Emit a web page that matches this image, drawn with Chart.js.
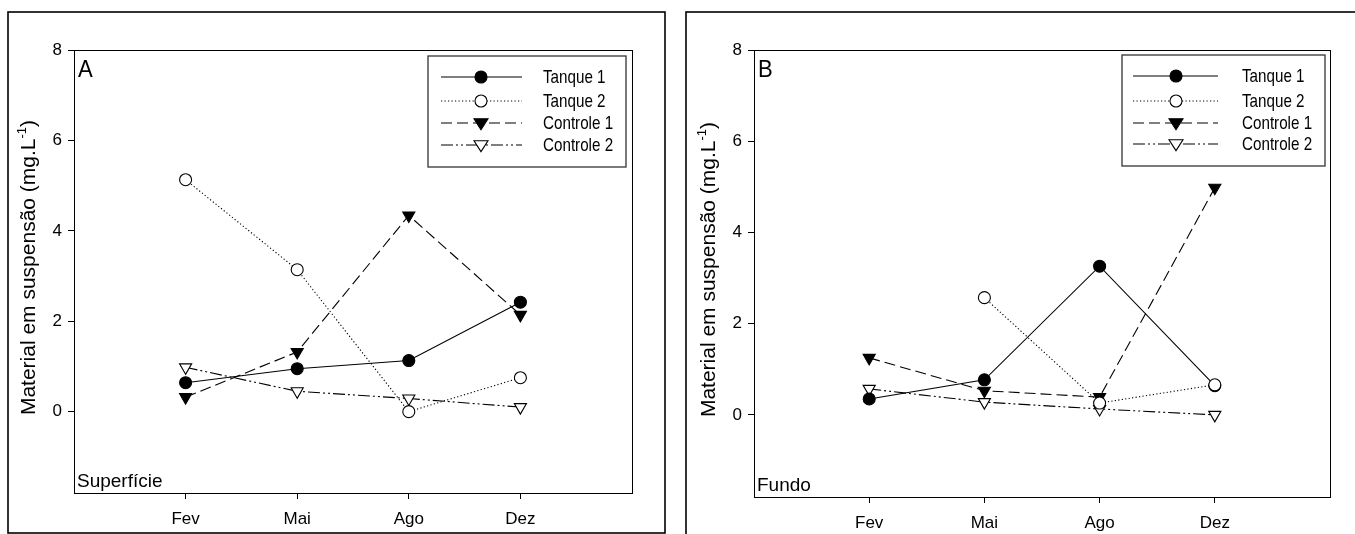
<!DOCTYPE html>
<html>
<head>
<meta charset="utf-8">
<script src="https://cdn.jsdelivr.net/npm/chart.js@4/dist/chart.umd.min.js"></script>
<style>
  html, body { margin:0; padding:0; background:#fff; }
  body { width:1355px; height:534px; position:relative; overflow:hidden; }
  canvas { position:absolute; top:0; }
</style>
</head>
<body>
<canvas id="cA" width="676" height="534" style="left:0px"></canvas>
<canvas id="cB" width="679" height="534" style="left:676px"></canvas>
<script>
// ---------- data ----------
const categories = ['Fev', 'Mai', 'Ago', 'Dez'];
const yTicks = [0, 2, 4, 6, 8];
const seriesNames = ['Tanque 1', 'Tanque 2', 'Controle 1', 'Controle 2'];

// Panel A - Superfície
const supTanque1   = [0.64, 0.95, 1.13, 2.42];
const supTanque2   = [5.13, 3.14, 0.00, 0.75];
const supControle1 = [0.32, 1.32, 4.34, 2.14];
const supControle2 = [0.98, 0.45, 0.29, 0.10];

// Panel B - Fundo
const fundoTanque1   = [0.35, 0.77, 3.26, 0.64];
const fundoTanque2   = [null, 2.57, 0.26, 0.66];
const fundoControle1 = [1.25, 0.53, 0.39, 4.98];
const fundoControle2 = [0.57, 0.28, 0.13, 0.00];

// ---------- styling ----------
const FONT = "'Liberation Sans', Arial, Helvetica, sans-serif";
const styles = [
  { borderDash: [], pointStyle: 'circle', pointRadius: 6, pointRotation: 0, fill: '#000', order: 1 },
  { borderDash: [1.2, 2.3], pointStyle: 'circle', pointRadius: 6, pointRotation: 0, fill: '#fff', order: 0 },
  { borderDash: [11, 5], pointStyle: 'triangle', pointRadius: 7, pointRotation: 180, fill: '#000', order: 2 },
  { borderDash: [12, 3, 2, 3, 2, 3], pointStyle: 'triangle', pointRadius: 7, pointRotation: 180, fill: '#fff', order: 3 }
];

function makeDatasets(arrs) {
  return arrs.map((arr, i) => ({
    label: seriesNames[i],
    data: arr.map((v, j) => ({ x: j + 1, y: v })),
    order: styles[i].order,
    borderColor: '#000',
    borderWidth: 1.1,
    borderDash: styles[i].borderDash,
    pointStyle: styles[i].pointStyle,
    pointRadius: styles[i].pointRadius,
    pointRotation: styles[i].pointRotation,
    pointBackgroundColor: styles[i].fill,
    pointBorderColor: '#000',
    pointBorderWidth: 1.1,
    fill: false,
    tension: 0,
    spanGaps: false
  }));
}

function drawMarker(ctx, style, r, rot, fill, x, y) {
  ctx.save();
  ctx.setLineDash([]);
  ctx.fillStyle = fill;
  ctx.strokeStyle = '#000';
  ctx.lineWidth = 1.1;
  ctx.beginPath();
  if (style === 'circle') {
    ctx.arc(x, y, r, 0, Math.PI * 2);
  } else {
    const s = r;
    ctx.moveTo(x - s, y - s * 0.6);
    ctx.lineTo(x + s, y - s * 0.6);
    ctx.lineTo(x, y + s * 0.95);
    ctx.closePath();
  }
  ctx.fill();
  ctx.stroke();
  ctx.restore();
}

function narrowText(ctx, text, x, y, size, squeeze) {
  ctx.save();
  ctx.font = size + 'px ' + FONT;
  ctx.translate(x, y);
  ctx.scale(squeeze, 1);
  ctx.fillText(text, 0, 0);
  ctx.restore();
}

function makeChart(id, W, area, frame, letter, place, legendBox, datasets) {
  const decor = {
    id: 'decor',
    beforeDraw(chart) {
      const ctx = chart.ctx;
      ctx.save();
      ctx.fillStyle = '#fff';
      ctx.fillRect(0, 0, chart.width, chart.height);
      ctx.strokeStyle = '#000';
      ctx.lineWidth = 1.6;
      ctx.strokeRect(frame[0], frame[1], frame[2] - frame[0], frame[3] - frame[1]);
      ctx.restore();
    },
    afterDraw(chart) {
      const ctx = chart.ctx;
      const a = chart.chartArea;
      ctx.save();
      ctx.strokeStyle = '#000';
      ctx.lineWidth = 1;
      ctx.strokeRect(a.left + 0.5, a.top + 0.5, a.right - a.left, a.bottom - a.top);
      // panel letter
      ctx.fillStyle = '#000';
      ctx.textBaseline = 'alphabetic';
      ctx.textAlign = 'left';
      narrowText(ctx, letter, a.left + 4, a.top + 27, 24, 0.92);
      // location label
      ctx.font = '19px ' + FONT;
      ctx.fillText(place, a.left + 3, a.bottom - 6);
      // axis title with superscript
      ctx.save();
      const cx = a.left - 39;
      const cy = (a.top + a.bottom) / 2 - 4;
      ctx.translate(cx, cy);
      ctx.rotate(-Math.PI / 2);
      const main = 'Material em suspensão (mg.L';
      const sup = '-1';
      const end = ')';
      ctx.font = '21px ' + FONT;
      const w1 = ctx.measureText(main).width;
      const w3 = ctx.measureText(end).width;
      ctx.font = '13px ' + FONT;
      const w2 = ctx.measureText(sup).width;
      let x0 = -(w1 + w2 + w3) / 2;
      ctx.font = '21px ' + FONT;
      ctx.fillText(main, x0, 0);
      ctx.font = '13px ' + FONT;
      ctx.fillText(sup, x0 + w1, -9);
      ctx.font = '21px ' + FONT;
      ctx.fillText(end, x0 + w1 + w2, 0);
      ctx.restore();
      // legend (in series order)
      const L = legendBox;
      ctx.strokeStyle = '#333';
      ctx.lineWidth = 1.3;
      ctx.strokeRect(L.x0, L.y0, L.x1 - L.x0, L.y1 - L.y0);
      chart.data.datasets.forEach((ds, i) => {
        const y = L.rows[i];
        ctx.save();
        ctx.strokeStyle = '#000';
        ctx.lineWidth = 1.1;
        ctx.setLineDash(ds.borderDash || []);
        ctx.beginPath();
        ctx.moveTo(L.l0, y);
        ctx.lineTo(L.l1, y);
        ctx.stroke();
        ctx.restore();
        drawMarker(ctx, ds.pointStyle, ds.pointRadius, ds.pointRotation, ds.pointBackgroundColor, L.m, y);
        ctx.fillStyle = '#000';
        ctx.textBaseline = 'middle';
        narrowText(ctx, ds.label, L.tx, y + 1, 19, 0.8);
      });
      ctx.restore();
    }
  };

  const H = 534;
  return new Chart(document.getElementById(id), {
    type: 'line',
    data: { datasets },
    plugins: [decor],
    options: {
      responsive: false,
      animation: false,
      events: [],
      layout: { padding: { left: 0, top: area.top, right: W - area.right, bottom: 0 } },
      plugins: { legend: { display: false }, tooltip: { enabled: false } },
      scales: {
        x: {
          type: 'linear', position: 'bottom', min: 0, max: 5,
          afterBuildTicks: s => { s.ticks = categories.map((c, i) => ({ value: i + 1 })); },
          afterFit: s => { s.height = H - area.bottom; },
          grid: { drawOnChartArea: false, drawTicks: true, tickLength: 6, color: '#000', lineWidth: 1 },
          border: { display: true, color: '#000', width: 1 },
          ticks: {
            color: '#000', padding: 10, maxRotation: 0, autoSkip: false,
            font: { family: FONT, size: 17 },
            callback: v => categories[Math.round(v) - 1] || ''
          }
        },
        y: {
          type: 'linear', position: 'left', min: -1.8, max: 8,
          afterBuildTicks: s => { s.ticks = yTicks.map(v => ({ value: v })); },
          afterFit: s => { s.width = area.left; },
          grid: { drawOnChartArea: false, drawTicks: true, tickLength: 6, color: '#000', lineWidth: 1 },
          border: { display: true, color: '#000', width: 1 },
          ticks: {
            color: '#000', padding: 6,
            font: { family: FONT, size: 17 },
            callback: v => String(v)
          }
        }
      }
    }
  });
}

makeChart('cA', 676,
  { left: 74, right: 632, top: 50, bottom: 493 },
  [8, 12, 665, 533], 'A', 'Superfície',
  { x0: 428, y0: 56, x1: 626, y1: 167, rows: [77, 101, 123, 145], l0: 441, l1: 522, m: 481, tx: 543 },
  makeDatasets([supTanque1, supTanque2, supControle1, supControle2]));

makeChart('cB', 679,
  { left: 78, right: 654, top: 50, bottom: 497 },
  [10, 12, 700, 560], 'B', 'Fundo',
  { x0: 446, y0: 55, x1: 649, y1: 166, rows: [76, 101, 123, 144], l0: 457, l1: 542, m: 500, tx: 566 },
  makeDatasets([fundoTanque1, fundoTanque2, fundoControle1, fundoControle2]));
</script>
</body>
</html>
